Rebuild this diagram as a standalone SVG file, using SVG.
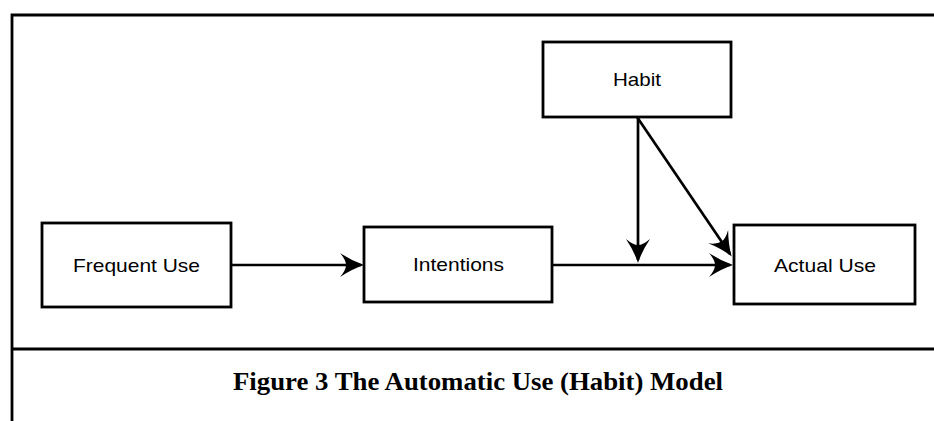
<svg xmlns="http://www.w3.org/2000/svg" width="934" height="421" viewBox="0 0 934 421">
  <style>
    .frame { fill: none; stroke: #000; stroke-width: 2.8; }
    .box { fill: #fff; stroke: #000; stroke-width: 2.8; }
    .label { font-family: "Liberation Sans", Arial, sans-serif; font-size: 18.5px; fill: #000; text-anchor: middle; }
    .caption { font-family: "Liberation Serif", "Times New Roman", serif; font-size: 25.5px; font-weight: bold; fill: #000; text-anchor: middle; }
    .edge { fill: none; stroke: #000; stroke-width: 2.7; marker-end: url(#stealth); }
  </style>
  <defs>
    <!-- concave "stealth" arrowhead, tip at the path end -->
    <marker id="stealth" markerUnits="userSpaceOnUse" markerWidth="32" markerHeight="32" viewBox="-28 -14 32 28" refX="0" refY="0" orient="auto">
      <path d="M3,0 Q-9,-4 -21,-12 Q-15,-5 -15,0 Q-15,5 -21,12 Q-9,4 3,0 Z" fill="#000"/>
    </marker>
  </defs>

  <!-- outer frame and caption divider -->
  <g id="frame">
    <path class="frame" d="M934,15 H12 V421"/>
    <line class="frame" x1="12" y1="349" x2="934" y2="349"/>
  </g>

  <g id="connectors">
    <line class="edge" x1="231" y1="265" x2="361" y2="265"/>
    <line class="edge" x1="552" y1="265" x2="730" y2="265"/>
    <line class="edge" x1="638" y1="117" x2="638" y2="260"/>
    <line class="edge" x1="637" y1="117" x2="730" y2="254"/>
  </g>

  <g id="habit">
    <rect class="box" x="543" y="42" width="188" height="75"/>
    <text class="label" x="637" y="86" textLength="48" lengthAdjust="spacingAndGlyphs">Habit</text>
  </g>

  <g id="frequent-use">
    <rect class="box" x="42" y="223" width="189" height="84"/>
    <text class="label" x="136.5" y="272" textLength="127" lengthAdjust="spacingAndGlyphs">Frequent Use</text>
  </g>

  <g id="intentions">
    <rect class="box" x="364" y="227" width="188" height="75"/>
    <text class="label" x="458.5" y="271" textLength="91" lengthAdjust="spacingAndGlyphs">Intentions</text>
  </g>

  <g id="actual-use">
    <rect class="box" x="734" y="225" width="181" height="79"/>
    <text class="label" x="825" y="272" textLength="102" lengthAdjust="spacingAndGlyphs">Actual Use</text>
  </g>

  <g id="caption">
    <text class="caption" x="478" y="390" textLength="490" lengthAdjust="spacingAndGlyphs">Figure 3 The Automatic Use (Habit) Model</text>
  </g>
</svg>
